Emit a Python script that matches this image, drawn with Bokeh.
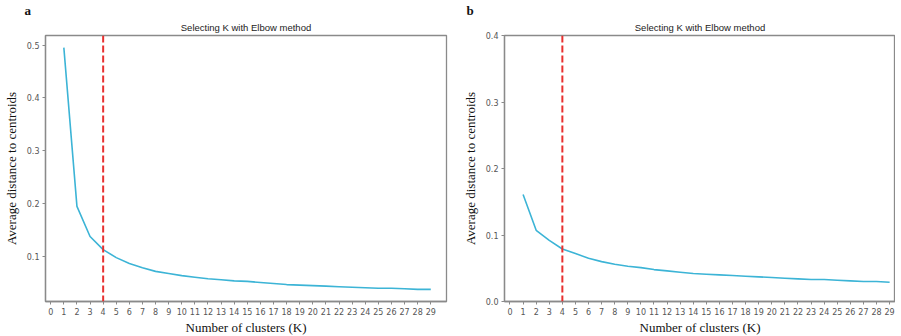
from bokeh.plotting import figure
from bokeh.models import Range1d, FixedTicker, Span, Title, NumeralTickFormatter
from bokeh.layouts import row
from bokeh.embed import file_html
from bokeh.resources import INLINE

k_values = list(range(1, 30))
x_ticks = list(range(0, 30))
elbow_k = 4

dist_a = [0.495, 0.195, 0.138, 0.113, 0.098, 0.087, 0.079, 0.072, 0.068, 0.064,
          0.061, 0.058, 0.056, 0.054, 0.053, 0.051, 0.049, 0.047, 0.046, 0.045,
          0.044, 0.043, 0.042, 0.041, 0.040, 0.040, 0.039, 0.038, 0.038]
dist_b = [0.161, 0.107, 0.092, 0.079, 0.072, 0.065, 0.060, 0.056, 0.053, 0.051,
          0.048, 0.046, 0.044, 0.042, 0.041, 0.040, 0.039, 0.038, 0.037, 0.036,
          0.035, 0.034, 0.033, 0.033, 0.032, 0.031, 0.030, 0.030, 0.029]
y_ticks_a = [0.1, 0.2, 0.3, 0.4, 0.5]
y_ticks_b = [0.0, 0.1, 0.2, 0.3, 0.4]

title_text = "Selecting K with Elbow method"
xlabel = "Number of clusters (K)"
ylabel = "Average distance to centroids"
LINE = "#3cb4d6"
RED = "#e8302f"
SERIF = "Liberation Serif"


def make_panel(ys, yticks, xr, yr, letter, fw, fh, left_border, right_border):
    p = figure(frame_width=fw, frame_height=fh, output_backend="svg",
               toolbar_location=None, x_range=Range1d(*xr), y_range=Range1d(*yr),
               min_border_left=left_border, min_border_right=right_border,
               min_border_top=0, min_border_bottom=0, title=letter)
    # panel letter (outer row)
    p.title.align = "left"
    p.title.offset = -(left_border - 14)
    p.title.text_font = SERIF
    p.title.text_font_style = "bold"
    p.title.text_font_size = "13px"
    p.title.text_color = "#111111"
    p.title.standoff = 0
    p.title.text_line_height = 0.4
    # chart title (row next to the frame)
    p.add_layout(Title(text=title_text, align="center",
                       text_font="Liberation Sans", text_font_style="normal",
                       text_font_size="9.5px", text_color="#222222",
                       standoff=5, offset=0), "above")
    p.grid.visible = False
    p.outline_line_color = "#8a8a8a"
    p.outline_line_width = 1.3
    p.background_fill_color = "white"
    p.border_fill_color = "white"
    p.line(k_values, ys, line_color=LINE, line_width=1.6)
    p.add_layout(Span(location=elbow_k, dimension="height", line_color=RED,
                      line_width=2, line_dash="7 3"))
    for ax in (p.xaxis[0], p.yaxis[0]):
        ax.axis_line_color = "#8a8a8a"
        ax.axis_line_width = 1.3
        ax.major_tick_line_color = "#8a8a8a"
        ax.major_tick_out = 3
        ax.major_tick_in = 0
        ax.minor_tick_line_color = None
        ax.major_label_text_font = "DejaVu Sans"
        ax.major_label_text_font_size = "8px"
        ax.major_label_text_color = "#555555"
        ax.major_label_standoff = 3
        ax.axis_label_text_font = SERIF
        ax.axis_label_text_font_style = "normal"
        ax.axis_label_text_font_size = "13px"
        ax.axis_label_text_color = "#111111"
    p.xaxis.ticker = FixedTicker(ticks=x_ticks)
    p.yaxis.ticker = FixedTicker(ticks=yticks)
    p.yaxis.formatter = NumeralTickFormatter(format="0.0")
    p.xaxis.axis_label = xlabel
    p.yaxis.axis_label = ylabel
    p.xaxis.axis_label_standoff = 2
    p.yaxis.axis_label_standoff = 5
    return p


pa = make_panel(dist_a, y_ticks_a, (-0.4, 30.2), (0.015, 0.518), "a",
                401, 266, 35, 6)
pb = make_panel(dist_b, y_ticks_b, (-0.42, 29.45), (0.0, 0.4), "b",
                391, 266, 52, 0)

layout = row(pa, pb)
open("out.html", "w").write(file_html(layout, INLINE))
